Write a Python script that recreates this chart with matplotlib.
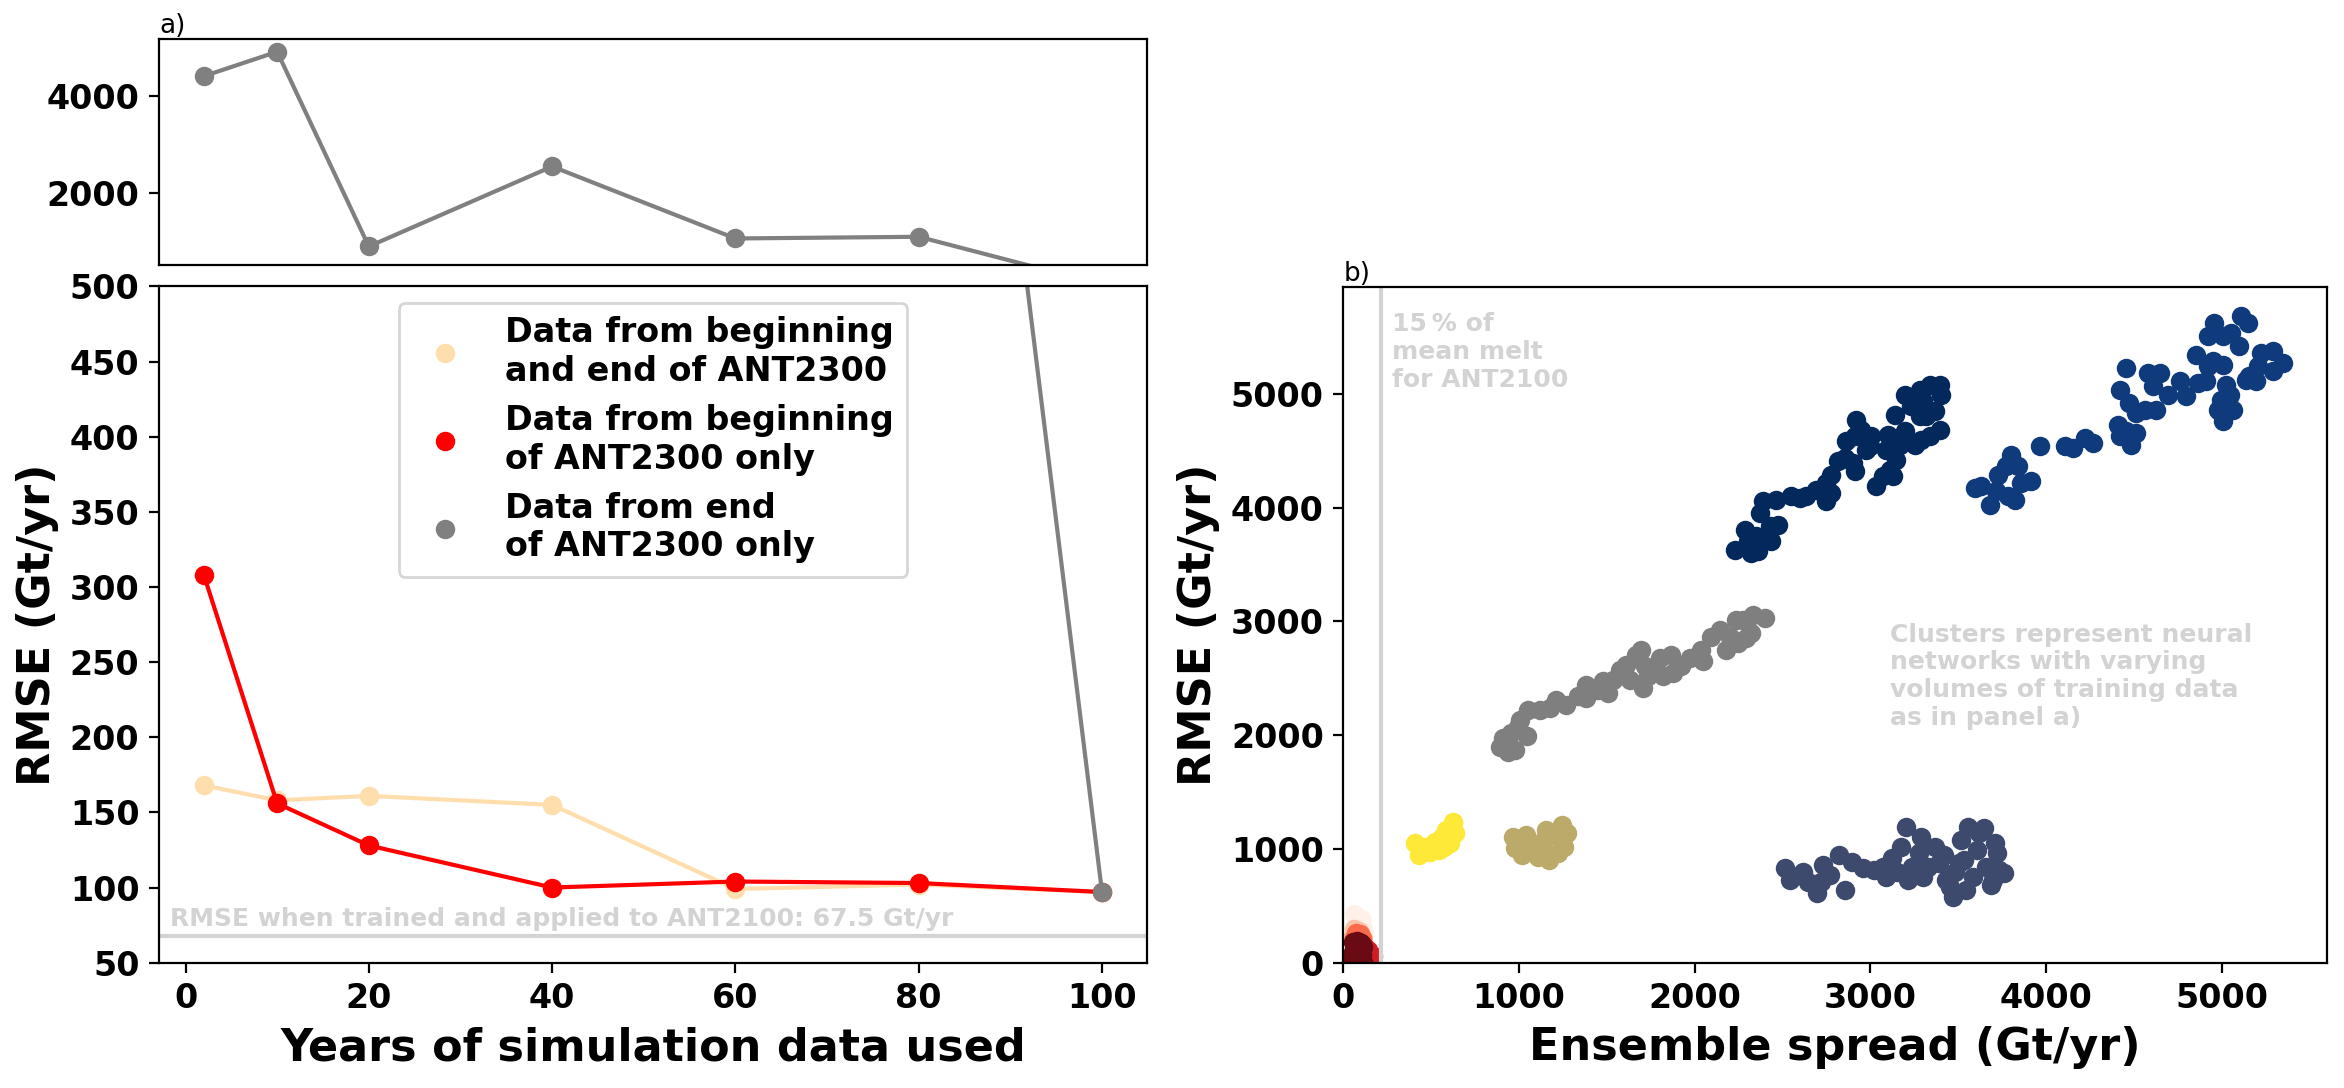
import numpy as np
import matplotlib
matplotlib.use("Agg")
import matplotlib.pyplot as plt

plt.rcParams["font.family"] = ["DejaVu Sans"]
plt.rcParams["font.weight"] = "bold"
plt.rcParams["axes.labelweight"] = "bold"

# panel a) RMSE vs. years of training data
years = [2, 10, 20, 40, 60, 80, 100]
rmse_both = [168, 158, 161, 155, 99, 102, 97]
rmse_begin = [308, 156, 128, 100, 104, 103, 97]
rmse_end = [4410, 4915, 885, 2540, 1050, 1085, 97]
rmse_ant2100 = 67.5

# panel b) clusters: ensemble spread (x) vs RMSE (y)
navy_spread = [2228, 2285, 2323, 2352, 2371, 2390, 2465, 2428, 2475, 2437, 2361, 2304,
               2551, 2598, 2636, 2693, 2750, 2779, 2750, 2779, 2816, 2854, 2911, 2902,
               2864, 2911, 2921, 2949, 2978, 3006, 2997, 3035, 3073, 3110, 3129, 3092,
               3101, 3129, 3148, 3139, 3167, 3196, 3196, 3234, 3281, 3300, 3338, 3395,
               3405, 3281, 3319, 3367, 3395, 3253, 3291, 3338]
navy_rmse = [3630, 3806, 3600, 3747, 3952, 4055, 4070, 3835, 3850, 3703, 3615, 3703,
             4105, 4084, 4099, 4158, 4055, 4128, 4216, 4289, 4407, 4436, 4319, 4392,
             4583, 4627, 4773, 4685, 4509, 4627, 4539, 4187, 4275, 4333, 4275, 4509,
             4641, 4539, 4421, 4817, 4553, 4671, 4993, 4890, 5037, 4934, 5081, 5081,
             4993, 4802, 4802, 4846, 4685, 4553, 4597, 4627]

blue_spread = [3594, 3632, 3680, 3718, 3727, 3775, 3803, 3841, 3860, 3917, 3822, 3784,
               3964, 4107, 4154, 4220, 4268, 4420, 4410, 4458, 4486, 4514, 4420, 4458,
               4476, 4514, 4562, 4628, 4581, 4647, 4609, 4695, 4761, 4799, 4856, 4865,
               4913, 4922, 4951, 5008, 4922, 4960, 5008, 5055, 5102, 5112, 5150, 5027,
               4998, 5046, 5065, 4979, 5008, 5159, 5207, 5226, 5292, 5349, 5292, 5197,
               5141]
blue_rmse = [4172, 4187, 4026, 4143, 4290, 4363, 4466, 4363, 4216, 4231, 4070, 4099,
             4539, 4539, 4524, 4612, 4568, 4627, 4729, 4671, 4554, 4656, 5037, 5228,
             4920, 4832, 4861, 4861, 5184, 5184, 5067, 4993, 5111, 4979, 5345, 5096,
             5111, 5243, 5287, 5257, 5506, 5624, 5506, 5536, 5418, 5682, 5624, 5081,
             4949, 4993, 4861, 4861, 4759, 5155, 5243, 5360, 5374, 5272, 5199, 5111,
             5125]

gray_spread = [891, 938, 976, 910, 957, 1005, 995, 1043, 1052, 1119, 1176, 1213, 1270,
               1337, 1384, 1384, 1450, 1479, 1507, 1536, 1574, 1612, 1631, 1669, 1697,
               1707, 1716, 1735, 1773, 1801, 1820, 1868, 1877, 1925, 1972, 2039, 2048,
               2095, 2143, 2181, 2200, 2238, 2247, 2295, 2323, 2333, 2399, 2276]
gray_rmse = [1900, 1856, 1871, 1973, 2017, 2134, 2076, 1993, 2222, 2222, 2237, 2310, 2266,
             2340, 2325, 2442, 2398, 2472, 2369, 2486, 2574, 2618, 2486, 2706, 2750,
             2413, 2604, 2516, 2574, 2677, 2516, 2706, 2545, 2604, 2677, 2750, 2648,
             2867, 2926, 2750, 2867, 3014, 2809, 2853, 2897, 3058, 3029, 3014]

slate_spread = [2516, 2541, 2618, 2643, 2694, 2732, 2770, 2719, 2821, 2859, 2897, 2961,
                3024, 3088, 3126, 3177, 3202, 3215, 3240, 3278, 3291, 3303, 3367, 3392,
                3418, 3456, 3469, 3481, 3519, 3532, 3545, 3558, 3583, 3608, 3621, 3646,
                3659, 3685, 3710, 3723, 3735, 3761, 3697, 3075, 3151, 3329, 3507, 3431]
slate_rmse = [830, 727, 801, 713, 610, 859, 771, 713, 947, 639, 889, 830,
              815, 757, 918, 1021, 1196, 727, 845, 962, 1108, 757, 1021, 874,
              947, 669, 581, 801, 1079, 903, 639, 1196, 757, 991, 1138, 1182,
              845, 684, 1050, 962, 815, 786, 727, 845, 801, 845, 874, 727]

khaki_spread = [966, 978, 1017, 1042, 1080, 1106, 1169, 1144, 1156, 1207, 1245, 1271,
                1258, 1220, 1118]
khaki_rmse = [1108, 1006, 947, 1123, 1021, 933, 903, 1079, 1167, 1123, 1211, 1138,
              1021, 962, 991]

yellow_spread = [407, 432, 470, 521, 559, 585, 623, 635, 610, 547, 496, 572, 623]
yellow_rmse = [1050, 947, 1021, 1064, 1108, 1167, 1226, 1138, 1050, 991, 977, 1021, 1240]

pale_spread = [60, 80, 100, 70, 95, 110, 60, 85, 120, 75]
pale_rmse = [430, 400, 380, 350, 330, 300, 300, 270, 260, 240]
salmon_spread = [60, 90, 70, 100, 50, 110]
salmon_rmse = [300, 280, 250, 240, 220, 210]
orange_spread = [70, 95, 80, 60, 105]
orange_rmse = [260, 255, 230, 215, 220]
red_spread = [60, 90, 120, 140, 155, 165, 150, 120, 100, 130, 170, 80, 60, 100]
red_rmse = [170, 180, 150, 110, 70, 30, 10, 40, 90, 80, 60, 100, 60, 20]
dark_spread = [55, 80, 100, 110, 95, 70, 55, 75, 105, 60, 90, 110, 50]
dark_rmse = [180, 190, 175, 140, 110, 130, 90, 60, 70, 20, 25, 10, 50]

melt_line = 217

fig = plt.figure(figsize=(11.72, 5.44), dpi=200)

ax_top = fig.add_axes([0.0678, 0.7564, 0.4215, 0.2078])
ax = fig.add_axes([0.0678, 0.1152, 0.4215, 0.6215], sharex=ax_top)
axb = fig.add_axes([0.5731, 0.1152, 0.4196, 0.6210])

# top (broken) part
ax_top.plot(years, rmse_end, "-", color="gray", lw=1.5)
ax_top.plot(years, rmse_end, "o", color="gray", ms=6)
ax_top.set_ylim(500, 5180)
ax_top.set_yticks([2000, 4000])
ax_top.tick_params(axis="x", bottom=False, labelbottom=False)
ax_top.tick_params(axis="y", labelsize=12)
ax_top.set_title("a)", loc="left", fontsize=9.5, fontweight="normal", pad=1)

# lower part
ax.axhline(rmse_ant2100, color="lightgray", lw=1.5)
ax.text(-1.7, 74.5, "RMSE when trained and applied to ANT2100: 67.5 Gt/yr",
        color="lightgray", fontsize=9, fontweight="bold", va="baseline")
ax.plot(years, rmse_both, "-", color="navajowhite", lw=1.5)
ax.plot(years, rmse_both, "o", color="navajowhite", ms=6,
        label="Data from beginning\nand end of ANT2300")
ax.plot(years, rmse_begin, "-", color="red", lw=1.5)
ax.plot(years, rmse_begin, "o", color="red", ms=6,
        label="Data from beginning\nof ANT2300 only")
ax.plot(years, rmse_end, "-", color="gray", lw=1.5)
ax.plot(years, rmse_end, "o", color="gray", ms=6,
        label="Data from end\nof ANT2300 only")
ax.set_ylim(50, 500)
ax.set_yticks(np.arange(50, 501, 50))
ax.set_xticks(np.arange(0, 101, 20))
ax.tick_params(labelsize=12)
ax.set_xlabel("Years of simulation data used", fontsize=16)
ax.set_ylabel("RMSE (Gt/yr)", fontsize=16)
ax.legend(loc="upper center", fontsize=12)

# panel b)
axb.axvline(melt_line, color="lightgray", lw=1.5)
axb.scatter(gray_spread, gray_rmse, color="#7f7f7f")
axb.scatter(navy_spread, navy_rmse, color="#03295c")
axb.scatter(blue_spread, blue_rmse, color="#0f3a7c")
axb.scatter(slate_spread, slate_rmse, color="#3d4a6e")
axb.scatter(khaki_spread, khaki_rmse, color="#bcaa6b")
axb.scatter(yellow_spread, yellow_rmse, color="#fee838")
axb.scatter(pale_spread, pale_rmse, color="#fff0e8")
axb.scatter(salmon_spread, salmon_rmse, color="#fcc3ab")
axb.scatter(orange_spread, orange_rmse, color="#fb6a4a")
axb.scatter(red_spread, red_rmse, color="#cf1d24")
axb.scatter(dark_spread, dark_rmse, color="#6a0a12")
axb.text(277, 5720, "15\u2009% of\nmean melt\nfor ANT2100", color="lightgray",
         fontsize=9, fontweight="bold", va="top")
axb.text(3110, 2990, "Clusters represent neural\nnetworks with varying\n"
         "volumes of training data\nas in panel a)", color="lightgray",
         fontsize=9, fontweight="bold", va="top")
axb.set_xlim(0, 5600)
axb.set_ylim(0, 5940)
axb.tick_params(labelsize=12)
axb.set_xlabel("Ensemble spread (Gt/yr)", fontsize=16)
axb.set_ylabel("RMSE (Gt/yr)", fontsize=16)
axb.set_title("b)", loc="left", fontsize=9.5, fontweight="normal", pad=1)

fig.savefig("out.png", dpi=200)
